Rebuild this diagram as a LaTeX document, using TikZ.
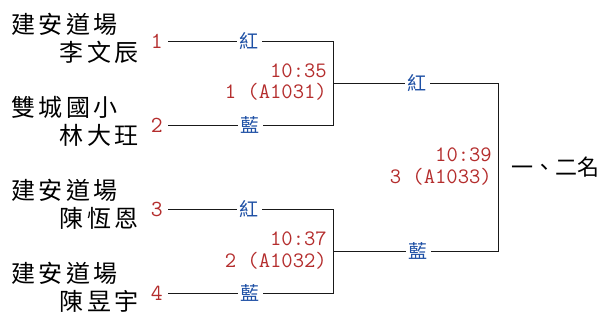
\documentclass[tikz,border=0pt]{standalone}
\usepackage{fontspec}
\newfontfamily\cjk{Noto Sans CJK TC}
\newfontfamily\cjkwide[LetterSpace=15]{Noto Sans CJK TC}
\definecolor{seedred}{RGB}{180,45,45}
\definecolor{cornerblue}{RGB}{30,80,165}
\tikzset{
  club/.style={anchor=west,inner sep=0pt,font=\cjkwide\fontsize{24}{24}\selectfont},
  player/.style={anchor=east,inner sep=0pt,font=\cjkwide\fontsize{24}{24}\selectfont},
  seed/.style={anchor=east,inner sep=5pt,text=seedred,font=\ttfamily\fontsize{23}{23}\selectfont},
  corner/.style={fill=white,inner sep=3pt,text=cornerblue,font=\cjk\fontsize{19}{19}\selectfont},
  match/.style={anchor=east,inner sep=0pt,text=seedred,font=\ttfamily\fontsize{22}{22}\selectfont},
  bracket/.style={draw=black!90,line width=0.9pt},
}
\begin{document}
\begin{tikzpicture}[x=1pt,y=-1pt]
    \useasboundingbox (0,0) rectangle (605,320);
    % entrants
    \node [club] (club1) at (11,24) {建安道場};
    \node [player] (name1) at (139,52) {李文辰};
    \node [club] (club2) at (11,107) {雙城國小};
    \node [player] (name2) at (139,135) {林大玨};
    \node [club] (club3) at (11,190) {建安道場};
    \node [player] (name3) at (139,218) {陳恆恩};
    \node [club] (club4) at (11,273) {建安道場};
    \node [player] (name4) at (139,301) {陳昱宇};
    \node [seed] (seed1) at (168,41) {1};
    \node [seed] (seed2) at (168,125) {2};
    \node [seed] (seed3) at (168,209) {3};
    \node [seed] (seed4) at (168,293) {4};
    % bouts
    \coordinate (bout1) at (333,83);
    \coordinate (bout2) at (333,251);
    \coordinate (final) at (498,167);
    \path[bracket] (seed1.east) -| (bout1);
    \path[bracket] (seed2.east) -| (bout1);
    \path[bracket] (seed3.east) -| (bout2);
    \path[bracket] (seed4.east) -| (bout2);
    \path[bracket] (bout1) -| (final);
    \path[bracket] (bout2) -| (final);
    \node [corner] (red1) at (249,41) {紅};
    \node [corner] (blue1) at (250,125) {藍};
    \node [corner] (red2) at (249,209) {紅};
    \node [corner] (blue2) at (250,293) {藍};
    \node [corner] (red3) at (417,83) {紅};
    \node [corner] (blue3) at (418,251) {藍};
    \node [match] (time1) at (327,71) {10:35};
    \node [match] (code1) at (327,92) {1 (A1031)};
    \node [match] (time2) at (327,239) {10:37};
    \node [match] (code2) at (327,261) {2 (A1032)};
    \node [match] (time3) at (492,155) {10:39};
    \node [match] (code3) at (492,177) {3 (A1033)};
    % result
    \node [anchor=west,inner sep=0pt,font=\cjk\fontsize{22}{22}\selectfont] (place) at (511,167) {一、二名};
\end{tikzpicture}
\end{document}
